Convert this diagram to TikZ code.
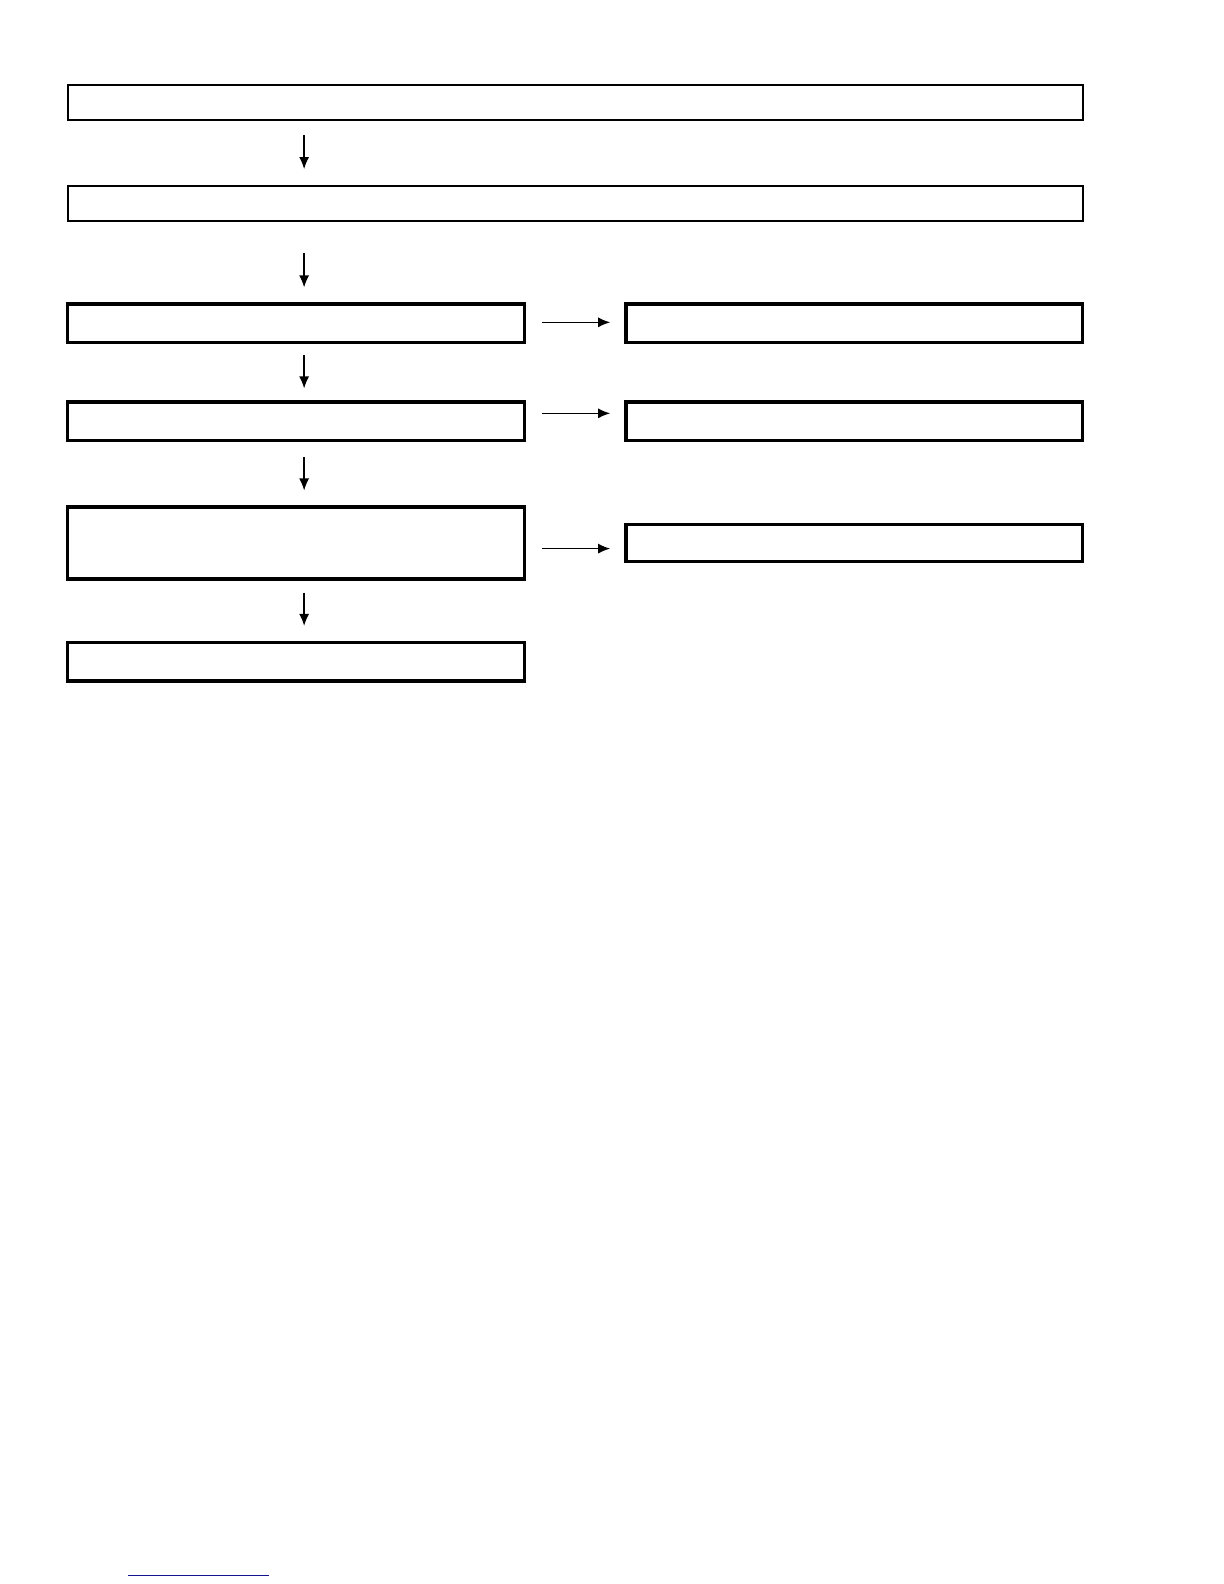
\documentclass[tikz,border=0pt]{standalone}
\usepackage{tikz}
\usepackage{xcolor}
\usetikzlibrary{arrows,arrows.meta}
\definecolor{linkblue}{RGB}{20,20,140}
\begin{document}
\begin{tikzpicture}[x=0.5052pt,y=-0.5052pt,>={Latex[length=6pt,width=5pt]},line width=0.7pt,
	flow/.style={->},
	wide box/.style={rectangle,draw,line width=0.8pt,minimum width=507.7pt,minimum height=17.7pt,inner sep=0pt},
	main box/.style={rectangle,draw,line width=1.7pt,minimum width=228.4pt,minimum height=19.2pt,inner sep=0pt}]

	\useasboundingbox (0pt,0pt) rectangle (612pt,-792pt);

	\node[wide box] (top) at (569.5,101.5) {};
	\node[wide box] (mid) at (569.5,201.5) {};

	\foreach \place/\name/\h in {{(293,320)/L1/19.2pt}, {(293,417)/L2/19.2pt}, {(293,537.5)/L3/35.9pt}, {(293,655)/L4/19.2pt}, {(845.5,320)/R1/19.2pt}, {(845.5,417)/R2/19.2pt}, {(845.5,537.5)/R3/18.7pt}}
		\node[main box,minimum height=\h] (\name) at \place {};

	\coordinate (col) at (301,0);

	\foreach \source/\dest/\s/\e in {top/mid/7pt/8pt, mid/L1/15.5pt/7.5pt, L1/L2/5.5pt/6pt, L2/L3/7.5pt/7.5pt, L3/L4/6pt/7.5pt}
		\draw[flow,shorten <=\s,shorten >=\e] (\source.south -| col) -- (\dest.north -| col);

	\foreach \source/\dest/\dy in {L1/R1/0.5pt, L2/R2/4pt, L3/R3/-2.75pt}
		\draw[flow,shorten <=8pt,shorten >=7pt] ([yshift=\dy]\source.east) -- ([yshift=\dy]\dest.west);

	\draw[linkblue,line width=0.7pt] (127,1559) -- (266,1559);
\end{tikzpicture}
\end{document}
